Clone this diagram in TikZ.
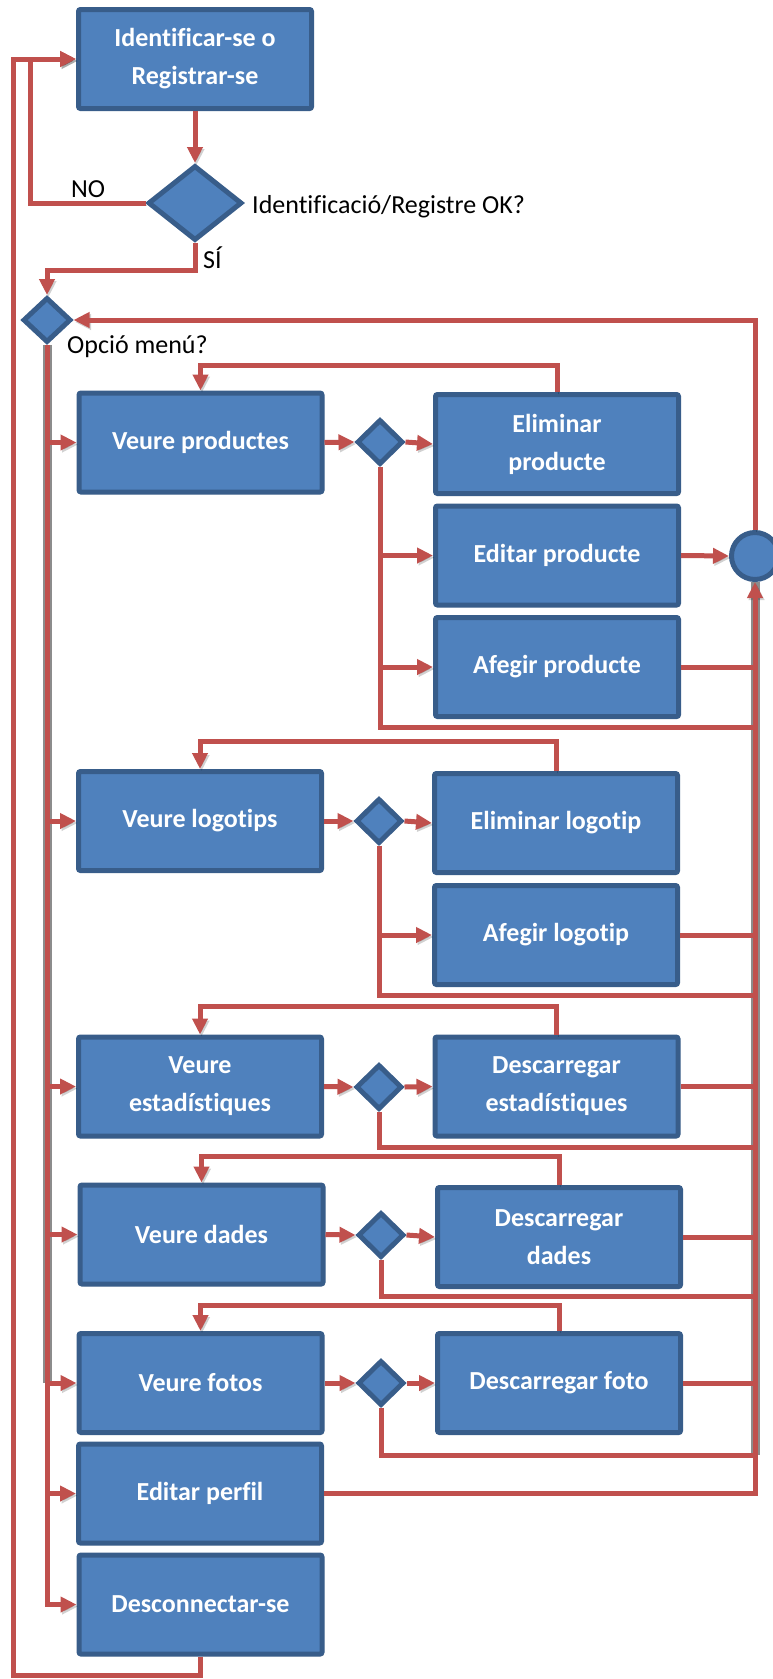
\documentclass[tikz,border=0pt]{standalone}
\usepackage{fontspec}
\setmainfont{Carlito}[Ligatures=NoCommon]
\usetikzlibrary{shapes.geometric,arrows.meta,shadows}
\definecolor{boxfill}{HTML}{4F81BD}
\definecolor{boxline}{HTML}{385D8A}
\definecolor{flow}{HTML}{C0504D}

\begin{document}
\begin{tikzpicture}[x=1pt,y=-1pt,
  box/.style={draw=boxline, fill=boxfill, line width=5pt, rounded corners=2pt,
    minimum width=243pt, minimum height=99pt, inner sep=0pt, align=center,
    text=white, font=\fontsize{26}{38}\selectfont\bfseries,
    drop shadow={shadow xshift=2pt, shadow yshift=-2pt, opacity=0.25, fill=black}},
  decision/.style={diamond, draw=boxline, fill=boxfill, line width=5pt, inner sep=0pt},
  smalldec/.style={decision, minimum width=46pt, minimum height=45pt},
  joint/.style={circle, draw=boxline, fill=boxfill, line width=5pt, inner sep=0pt, minimum size=47pt},
  lbl/.style={inner sep=0pt, font=\fontsize{26}{30}\selectfont, text=black},
  conn/.style={draw=flow, line width=5pt,
    preaction={draw=black, opacity=0.18, transform canvas={shift={(1.5pt,-2pt)}}}},
  arr/.style={conn, -{Triangle[length=16pt,width=15pt]}},
  darkedge/.style={draw=black, opacity=0.45, line width=9pt}
]
\useasboundingbox (0,0) rectangle (773,1679);

% routing levels and columns
\coordinate (noX) at (30,0);
\coordinate (outX) at (13,0);
\coordinate (cx) at (755,0);
\coordinate (ySI) at (0,270);
\coordinate (yB) at (0,1675);
\coordinate (rP) at (0,365);
\coordinate (yP) at (0,727);
\coordinate (rL) at (0,741);
\coordinate (yL) at (0,995);
\coordinate (rE) at (0,1006);
\coordinate (yE) at (0,1147);
\coordinate (rD) at (0,1156);
\coordinate (yD) at (0,1296);
\coordinate (rF) at (0,1305);
\coordinate (yF) at (0,1455);

% login
\node[box, minimum width=233pt] (start) at (195,59) {Identificar-se o\\Registrar-se};
\node[decision, minimum width=94pt, minimum height=75pt] (dec1) at (195,203) {};
\node[lbl, anchor=base west] (q1) at (252,213) {Identificació/Registre OK?};
\node[lbl, anchor=base west] (lno) at (71,197) {NO};
\node[lbl, anchor=base west] (lsi) at (203,268) {SÍ};

% menu
\node[decision, minimum width=48pt, minimum height=45pt] (menu) at (47,320) {};
\node[lbl, anchor=base west] (q2) at (67,353) {Opció menú?};

% products
\node[box] (vp) at (200.5,442.5) {Veure productes};
\node[smalldec] (dp) at (380,442) {};
\node[box] (elp) at (557,444) {Eliminar\\producte};
\node[box] (edp) at (557,555.5) {Editar producte};
\node[box] (afp) at (557,667) {Afegir producte};
\node[joint] (join) at (755,556) {};

% logos
\node[box] (vl) at (200,821) {Veure logotips};
\node[smalldec] (dl) at (379,821) {};
\node[box] (ell) at (556,823) {Eliminar logotip};
\node[box] (afl) at (556,935) {Afegir logotip};

% statistics
\node[box] (ve) at (200,1086.5) {Veure\\estadístiques};
\node[smalldec] (de) at (379,1087) {};
\node[box] (dese) at (556.5,1086.5) {Descarregar\\estadístiques};

% data
\node[box] (vd) at (201.5,1234.5) {Veure dades};
\node[smalldec] (dd) at (381,1235) {};
\node[box] (desd) at (559,1237) {Descarregar\\dades};

% photos
\node[box] (vf) at (200.5,1383) {Veure fotos};
\node[smalldec] (df) at (381,1383) {};
\node[box] (desf) at (559,1383) {Descarregar foto};

% profile and logout
\node[box] (ep) at (200,1493.5) {Editar perfil};
\node[box] (dc) at (200.5,1604.5) {Desconnectar-se};

% dark edges under the long trunk and collector runs
\draw[darkedge] (menu.south) -- (menu.south |- vf.west);
\draw[darkedge] (join.south) -- (cx |- yF);

% login flow
\draw[arr] (start.south) -- (dec1.north);
\draw[arr] (dec1.west) -| (noX |- start.west) -- (start.west);
\draw[arr] (dec1.south) -- (dec1.south |- ySI) -| (menu.north);
\draw[arr] (dc.south) -- (dc.south |- yB) -| (outX |- start.west) -- (start.west);

% menu trunk
\draw[arr] (menu.south) |- (dc.west);
\foreach \n in {vp,vl,ve,vd,vf,ep}
  \draw[arr] (menu.south |- \n.west) -- (\n.west);

% products
\draw[arr] (vp.east) -- (dp.west);
\draw[arr] (dp.east) -- (elp.west);
\draw[conn] (dp.south) |- (cx |- yP);
\draw[arr] (dp.south |- edp.west) -- (edp.west);
\draw[arr] (dp.south |- afp.west) -- (afp.west);
\draw[arr] (elp.north) -- (elp.north |- rP) -| (vp.north);
\draw[arr] (edp.east) -- (join.west);
\draw[conn] (afp.east) -- (afp.east -| cx);

% logos
\draw[arr] (vl.east) -- (dl.west);
\draw[arr] (dl.east) -- (ell.west);
\draw[conn] (dl.south) |- (cx |- yL);
\draw[arr] (dl.south |- afl.west) -- (afl.west);
\draw[arr] (ell.north) -- (ell.north |- rL) -| (vl.north);
\draw[conn] (afl.east) -- (afl.east -| cx);

% statistics
\draw[arr] (ve.east) -- (de.west);
\draw[arr] (de.east) -- (dese.west);
\draw[conn] (de.south) |- (cx |- yE);
\draw[arr] (dese.north) -- (dese.north |- rE) -| (ve.north);
\draw[conn] (dese.east) -- (dese.east -| cx);

% data
\draw[arr] (vd.east) -- (dd.west);
\draw[arr] (dd.east) -- (desd.west);
\draw[conn] (dd.south) |- (cx |- yD);
\draw[arr] (desd.north) -- (desd.north |- rD) -| (vd.north);
\draw[conn] (desd.east) -- (desd.east -| cx);

% photos
\draw[arr] (vf.east) -- (df.west);
\draw[arr] (df.east) -- (desf.west);
\draw[conn] (df.south) |- (cx |- yF);
\draw[arr] (desf.north) -- (desf.north |- rF) -| (vf.north);
\draw[conn] (desf.east) -- (desf.east -| cx);

% collector back to the menu
\draw[arr] (ep.east) -| (join.south);
\draw[arr] (join.north) |- (menu.east);
\end{tikzpicture}
\end{document}
